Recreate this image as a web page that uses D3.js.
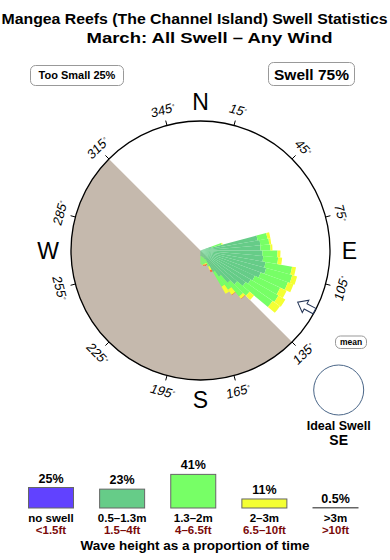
<!DOCTYPE html>
<html>
<head>
<meta charset="utf-8">
<script src="https://cdn.jsdelivr.net/npm/d3@7"></script>
<style>
  body { margin: 0; background: #fff; }
  svg { display: block; font-family: "Liberation Sans", Arial, Helvetica, sans-serif; }
</style>
</head>
<body>
<div id="chart"></div>
<script>
// direction bins (start bearing, 5 deg wide)
var binStart = [70, 75, 80, 85, 90, 95, 100, 105, 110, 115, 120, 125, 130, 135, 140, 145, 150, 155, 160, 165, 170, 175];
// percent of time per bin and wave height band
var band1 = [0.14, 3.36, 3.6, 3.6, 3.84, 3.97, 4.36, 4.62, 4.1, 3.6, 3.36, 3.03, 2.3, 1.76, 1.02, 0.63, 0.1, 0.06, 0.05, 0.04, 0.03, 0.03];
var band2 = [0.34, 1.26, 1.16, 1.3, 2.09, 2.11, 4.29, 4.41, 4.55, 4.14, 4.74, 4.71, 1.8, 1.84, 1.28, 1.13, 0.22, 0.12, 0.14, 0.15, 0.18, 0.15];
var band3 = [0.05, 0.42, 0.28, 0.28, 0.47, 0.64, 0.76, 0.97, 1.15, 1.29, 1.5, 1.67, 0.8, 0.37, 0.62, 0.74, 0.16, 0.04, 0.03, 0.02, 0.01, 0];
var band4 = [0, 0, 0, 0, 0, 0, 0, 0, 0, 0, 0, 0, 0, 0.05, 0.05, 0, 0.1, 0.03, 0.04, 0.03, 0, 0];

var legendPct = [25, 23, 41, 11, 0.5];
var legendPctText = ["25%", "23%", "41%", "11%", "0.5%"];
var legendM = ["no swell", "0.5\u20131.3m", "1.3\u20132m", "2\u20133m", ">3m"];
var legendFt = ["<1.5ft", "1.5\u20134ft", "4\u20136.5ft", "6.5\u201310ft", ">10ft"];
var legendColor = ["#6142ff", "#66cc88", "#77ff66", "#f4ff33", "#ff6633"];

var compassTicks = [15, 45, 75, 105, 135, 165, 195, 225, 255, 285, 315, 345];
var cardinals = [["N", 0], ["E", 90], ["S", 180], ["W", 270]];
var meanDir = 118;
var landFrom = 135, landTo = 315;

var width = 390, height = 560;
var cx = 200.5, cy = 250.5, R = 129.5;
var rad = Math.PI / 180;

var svg = d3.select("#chart").append("svg")
    .attr("width", width)
    .attr("height", height);

// titles
svg.append("text").attr("x", 194.5).attr("y", 24).attr("text-anchor", "middle")
    .attr("textLength", 386).attr("lengthAdjust", "spacingAndGlyphs")
    .style("font-size", "14.5px").style("font-weight", "bold")
    .text("Mangea Reefs (The Channel Island) Swell Statistics");
svg.append("text").attr("x", 209.5).attr("y", 42.5).attr("text-anchor", "middle")
    .attr("textLength", 246).attr("lengthAdjust", "spacingAndGlyphs")
    .style("font-size", "14.5px").style("font-weight", "bold")
    .text("March: All Swell \u2013 Any Wind");

// boxes top
function labelBox(x, y, w, h, txt, fs) {
    svg.append("rect").attr("x", x).attr("y", y).attr("width", w).attr("height", h)
        .attr("rx", 5).attr("fill", "#fff").attr("stroke", "#999").attr("stroke-width", 1);
    svg.append("text").attr("x", x + w / 2).attr("y", y + h / 2).attr("dy", "0.36em")
        .attr("text-anchor", "middle").style("font-size", fs).style("font-weight", "bold")
        .text(txt);
}
labelBox(30.5, 65.5, 93, 20, "Too Small 25%", "11px");
labelBox(268.5, 62.5, 86, 23, "Swell 75%", "15.5px");

var g = svg.append("g").attr("transform", "translate(" + cx + "," + cy + ")");

// land half
var land = d3.arc().innerRadius(0).outerRadius(R)
    .startAngle(landFrom * rad).endAngle(landTo * rad);
g.append("path").attr("d", land()).attr("fill", "#c5b9ad");

// rose
var rows = binStart.map(function (b, i) {
    return { dir: b, b1: band1[i], b2: band2[i], b3: band3[i], b4: band4[i] };
});
var keys = ["b1", "b2", "b3", "b4"];
var stacked = d3.stack().keys(keys)(rows);
var maxTotal = d3.max(rows, function (d) { return d.b1 + d.b2 + d.b3 + d.b4; });
var r = d3.scaleSqrt().domain([0, maxTotal]).range([0, 100]);
var bandColor = d3.scaleOrdinal().domain(keys).range(legendColor.slice(1));

var arc = d3.arc();
g.append("g").selectAll("g")
    .data(stacked)
    .enter().append("g")
    .attr("fill", function (d) { return bandColor(d.key); })
    .selectAll("path")
    .data(function (d) { return d; })
    .enter().append("path")
    .attr("d", function (d) {
        return arc({
            innerRadius: r(d[0]), outerRadius: r(d[1]),
            startAngle: d.data.dir * rad, endAngle: (d.data.dir + 5) * rad
        });
    });

// outline circle
g.append("circle").attr("r", R).attr("fill", "none").attr("stroke", "#000").attr("stroke-width", 1.3);

// degree ticks + labels
compassTicks.forEach(function (b) {
    var s = Math.sin(b * rad), c = -Math.cos(b * rad);
    g.append("line").attr("x1", s * R).attr("y1", c * R).attr("x2", s * (R + 5)).attr("y2", c * (R + 5))
        .attr("stroke", "#000").attr("stroke-width", 1);
    var rot = b <= 90 ? b : (b < 270 ? b - 180 : b - 360);
    var tx = s * 145.5, ty = c * 145.5;
    var t = g.append("text").attr("transform", "translate(" + tx + "," + ty + ") rotate(" + rot + ") skewX(-10)")
        .attr("text-anchor", "middle").attr("dy", "0.36em")
        .style("font-size", "13px");
    t.append("tspan").text(b);
    t.append("tspan").attr("dy", "-0.45em").style("font-size", "6.5px").text("\u00b0");
});

cardinals.forEach(function (c) {
    var s = Math.sin(c[1] * rad), co = -Math.cos(c[1] * rad);
    var rr = c[0] == "W" ? 152.5 : 149;
    g.append("text").attr("x", s * rr).attr("y", co * rr).attr("dy", "0.36em")
        .attr("text-anchor", "middle").style("font-size", "23px").text(c[0]);
});

// mean arrow, pointing inward
var ma = g.append("g").attr("transform", "rotate(" + meanDir + ")");
ma.append("path")
    .attr("d", "M0," + (-110) + " L7," + (-119) + " L3," + (-119) + " L3," + (-129) +
        " L-3," + (-129) + " L-3," + (-119) + " L-7," + (-119) + " Z")
    .attr("fill", "#fff").attr("stroke", "#223355").attr("stroke-width", 1);

// mean box & ideal swell
labelBox(335.5, 336, 31, 12.5, "mean", "8.5px");
svg.append("circle").attr("cx", 338.7).attr("cy", 390).attr("r", 25)
    .attr("fill", "#fff").attr("stroke", "#4a6688").attr("stroke-width", 1);
svg.append("text").attr("x", 338.7).attr("y", 429.5).attr("text-anchor", "middle")
    .style("font-size", "12.5px").style("font-weight", "bold").text("Ideal Swell");
svg.append("text").attr("x", 338.7).attr("y", 444.5).attr("text-anchor", "middle")
    .style("font-size", "14px").style("font-weight", "bold").text("SE");

// legend
var lx = d3.scalePoint().domain(legendM).range([51, 335.5]);
var lh = d3.scaleLinear().domain([0, 100]).range([0, 82]);
var base = 508;
var leg = svg.append("g");
legendM.forEach(function (m, i) {
    var x = lx(m), h = Math.max(lh(legendPct[i]), 0.5);
    leg.append("rect").attr("x", x - 22.5).attr("y", base - h).attr("width", 45).attr("height", h)
        .attr("fill", legendColor[i]).attr("stroke", "#666").attr("stroke-width", 1);
    leg.append("text").attr("x", x).attr("y", base - h - 5).attr("text-anchor", "middle")
        .style("font-size", "12.5px").style("font-weight", "bold").text(legendPctText[i]);
    leg.append("text").attr("x", x).attr("y", 522).attr("text-anchor", "middle")
        .style("font-size", "11.5px").style("font-weight", "bold").text(m);
    leg.append("text").attr("x", x).attr("y", 533.5).attr("text-anchor", "middle")
        .style("font-size", "11.5px").style("font-weight", "bold").attr("fill", "#7a0a0a").text(legendFt[i]);
});
svg.append("text").attr("x", 195).attr("y", 550).attr("text-anchor", "middle")
    .style("font-size", "13.5px").style("font-weight", "bold")
    .text("Wave height as a proportion of time");
</script>
</body>
</html>
